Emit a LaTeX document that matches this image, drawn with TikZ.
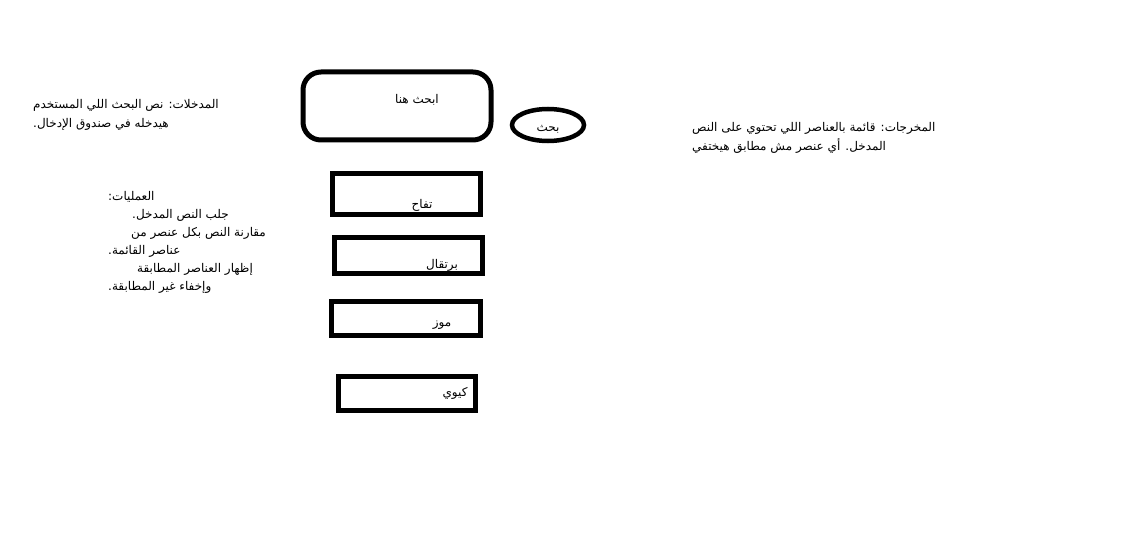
\documentclass[tikz,border=0pt]{standalone}
\usepackage{fontspec}
\TeXXeTstate=1
\newfontfamily\arabicfont[Script=Arabic]{DejaVu Sans}
\usetikzlibrary{shapes.geometric}
\tikzset{
  frame/.style={draw=black, line width=5pt, inner sep=0pt},
  txt/.style={inner sep=0pt, font=\arabicfont\fontsize{12}{14}\selectfont},
  ltxt/.style={txt, anchor=west},
}
\newcommand{\ar}[1]{\beginR #1\endR}
\begin{document}
\begin{tikzpicture}[x=1pt,y=-1pt]
\useasboundingbox (0,0) rectangle (1130,559);
% input box and button
\node[frame, rounded corners=18pt, minimum width=188pt, minimum height=68pt] (search) at (397,106) {};
\node[frame, line width=4.5pt, ellipse, minimum width=72pt, minimum height=32pt] (btn) at (548,125) {};
\node[txt] (searchtxt) at (417,100) {\ar{ابحث هنا}};
\node[txt] (btntxt) at (548,129) {\ar{بحث}};
% list items
\node[frame, minimum width=148pt, minimum height=41pt] (b1) at (406,194) {};
\node[frame, minimum width=148pt, minimum height=36pt] (b2) at (408.5,255.5) {};
\node[frame, minimum width=149pt, minimum height=34pt] (b3) at (406,318.5) {};
\node[frame, minimum width=137pt, minimum height=34pt] (b4) at (407,393.5) {};
\node[txt] (t1) at (422,205) {\ar{تفاح}};
\node[txt] (t2) at (442,265) {\ar{برتقال}};
\node[txt] (t3) at (442,325) {\ar{موز}};
\node[txt] (t4) at (455,393) {\ar{كيوي}};
% inputs
\node[ltxt] (in1) at (33,105) {\ar{المدخلات: نص البحث اللي المستخدم}};
\node[ltxt] (in2) at (33,124) {\ar{هيدخله في صندوق الإدخال.}};
% processes
\node[ltxt] (p1) at (108,197) {\ar{العمليات:}};
\node[ltxt] (p2) at (132,215) {\ar{جلب النص المدخل.}};
\node[ltxt] (p3) at (131,233) {\ar{مقارنة النص بكل عنصر من}};
\node[ltxt] (p4) at (108,251) {\ar{عناصر القائمة.}};
\node[ltxt] (p5) at (137,269) {\ar{إظهار العناصر المطابقة}};
\node[ltxt] (p6) at (108,287) {\ar{وإخفاء غير المطابقة.}};
% outputs
\node[ltxt] (o1) at (692,128) {\ar{المخرجات: قائمة بالعناصر اللي تحتوي على النص}};
\node[ltxt] (o2) at (692,146) {\ar{المدخل. أي عنصر مش مطابق هيختفي}};
\end{tikzpicture}
\end{document}
